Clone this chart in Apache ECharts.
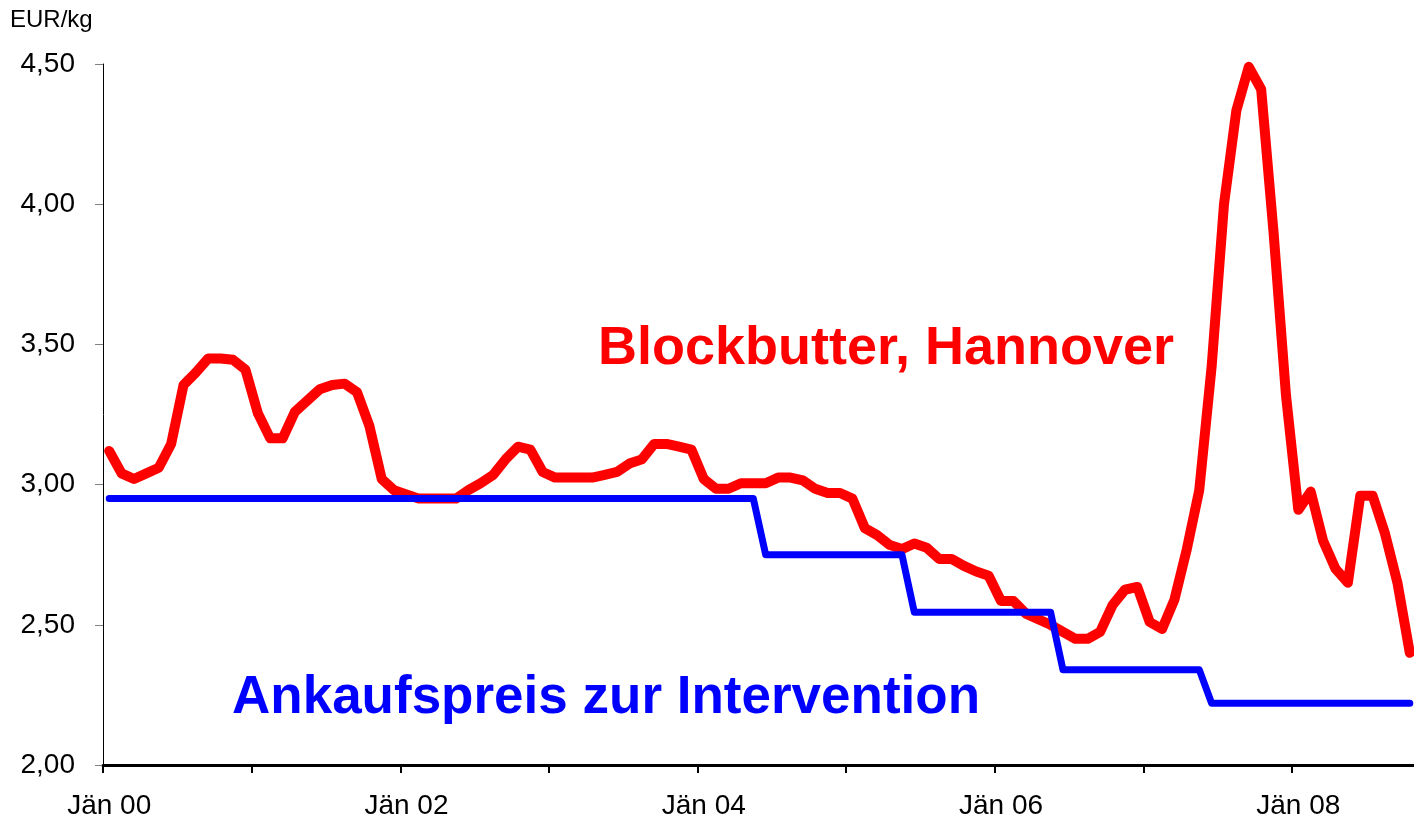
<!DOCTYPE html>
<html>
<head>
<meta charset="utf-8">
<title>Blockbutter Hannover</title>
<script src="https://cdn.jsdelivr.net/npm/echarts@6/dist/echarts.min.js"></script>
<style>
  html, body { margin: 0; padding: 0; background: #fff; }
  #chart { width: 1414px; height: 820px; }
</style>
</head>
<body>
<div id="chart"></div>
<script>
// Monate / Jahre fuer die Kategorieachse
var months = ["Jän", "Feb", "Mär", "Apr", "Mai", "Jun", "Jul", "Aug", "Sep", "Okt", "Nov", "Dez"];
var years = ["00", "01", "02", "03", "04", "05", "06", "07", "08"];

// Blockbutter, Hannover (EUR/kg), Jän 00 .. Okt 08
var butter = [
  3.12, 3.04, 3.02, 3.04, 3.06, 3.145, 3.355, 3.40, 3.45, 3.45, 3.445, 3.41,
  3.255, 3.165, 3.165, 3.26, 3.30, 3.34, 3.355, 3.36, 3.33, 3.21, 3.02, 2.98,
  2.965, 2.95, 2.95, 2.95, 2.95, 2.98, 3.005, 3.035, 3.09, 3.135, 3.125, 3.045,
  3.025, 3.025, 3.025, 3.025, 3.035, 3.045, 3.075, 3.09, 3.145, 3.145, 3.135, 3.125,
  3.02, 2.985, 2.985, 3.005, 3.005, 3.005, 3.025, 3.025, 3.015, 2.985, 2.97, 2.97,
  2.95, 2.845, 2.82, 2.785, 2.77, 2.79, 2.775, 2.735, 2.735, 2.71, 2.69, 2.675,
  2.585, 2.585, 2.54, 2.52, 2.50, 2.475, 2.45, 2.45, 2.475, 2.57, 2.625, 2.635,
  2.51, 2.485, 2.59, 2.77, 2.98, 3.42, 4.00, 4.335, 4.49, 4.41, 3.90, 3.32,
  2.91, 2.975, 2.80, 2.70, 2.65, 2.96, 2.96, 2.825, 2.65, 2.40
];

// Ankaufspreis zur Intervention (EUR/kg)
var intervention = [
  2.95, 2.95, 2.95, 2.95, 2.95, 2.95, 2.95, 2.95, 2.95, 2.95, 2.95, 2.95,
  2.95, 2.95, 2.95, 2.95, 2.95, 2.95, 2.95, 2.95, 2.95, 2.95, 2.95, 2.95,
  2.95, 2.95, 2.95, 2.95, 2.95, 2.95, 2.95, 2.95, 2.95, 2.95, 2.95, 2.95,
  2.95, 2.95, 2.95, 2.95, 2.95, 2.95, 2.95, 2.95, 2.95, 2.95, 2.95, 2.95,
  2.95, 2.95, 2.95, 2.95, 2.95, 2.75, 2.75, 2.75, 2.75, 2.75, 2.75, 2.75,
  2.75, 2.75, 2.75, 2.75, 2.75, 2.545, 2.545, 2.545, 2.545, 2.545, 2.545, 2.545,
  2.545, 2.545, 2.545, 2.545, 2.545, 2.34, 2.34, 2.34, 2.34, 2.34, 2.34, 2.34,
  2.34, 2.34, 2.34, 2.34, 2.34, 2.22, 2.22, 2.22, 2.22, 2.22, 2.22, 2.22,
  2.22, 2.22, 2.22, 2.22, 2.22, 2.22, 2.22, 2.22, 2.22, 2.22
];

// Kategorien "Jän 00", "Feb 00", ...
var categories = [];
years.forEach(function (y) {
  months.forEach(function (m) { categories.push(m + " " + y); });
});
categories = categories.slice(0, butter.length);

var FONT = "'Liberation Sans', Arial, sans-serif";

var chart = echarts.init(document.getElementById("chart"));

var option = {
  backgroundColor: "#fff",
  animation: false,
  grid: {
    left: 103,
    right: -2,
    top: 64,
    bottom: 55,
    containLabel: false,
    outerBoundsMode: "none"
  },
  xAxis: {
    type: "category",
    data: categories,
    boundaryGap: true,
    axisLine: { lineStyle: { color: "#000", width: 3 } },
    axisTick: {
      show: true,
      interval: 11,   // jedes Jahr ein Strich
      length: 8,
      lineStyle: { color: "#000", width: 2 }
    },
    axisLabel: {
      interval: 23,   // Beschriftung alle 2 Jahre
      color: "#000",
      fontFamily: FONT,
      fontSize: 28,
      margin: 27
    },
    splitLine: { show: false }
  },
  yAxis: {
    type: "value",
    min: 2,
    max: 4.5,
    interval: 0.5,
    axisLine: { show: true, lineStyle: { color: "#000", width: 1 } },
    axisTick: { show: true, length: 8, lineStyle: { color: "#808080", width: 1 } },
    axisLabel: {
      color: "#000",
      fontFamily: FONT,
      fontSize: 28,
      margin: 28,
      formatter: function (v) { return v.toFixed(2).replace(".", ","); }
    },
    splitLine: { show: false }
  },
  graphic: [
    {
      type: "text",
      left: 10,
      top: 8,
      style: { text: "EUR/kg", fill: "#000", font: "24px " + FONT }
    },
    {
      type: "text",
      left: 598,
      top: 322,
      style: { text: "Blockbutter, Hannover", fill: "#ff0000", font: "bold 54px " + FONT }
    },
    {
      type: "text",
      left: 232,
      top: 672,
      style: { text: "Ankaufspreis zur Intervention", fill: "#0000ff", font: "bold 53px " + FONT }
    }
  ],
  series: [
    {
      name: "Blockbutter, Hannover",
      type: "line",
      data: butter,
      showSymbol: false,
      lineStyle: { color: "#ff0000", width: 10, cap: "round", join: "round" }
    },
    {
      name: "Ankaufspreis zur Intervention",
      type: "line",
      data: intervention,
      showSymbol: false,
      lineStyle: { color: "#0000ff", width: 7, cap: "round", join: "round" }
    }
  ]
};

chart.setOption(option);
</script>
</body>
</html>
